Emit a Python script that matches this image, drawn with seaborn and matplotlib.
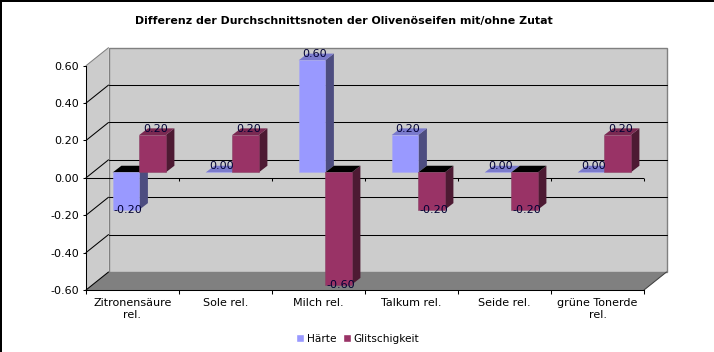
import pandas as pd
import seaborn as sns
import matplotlib.pyplot as plt
from matplotlib.patches import Polygon, Rectangle

categories = ['Zitronensäure\nrel.', 'Sole rel.', 'Milch rel.', 'Talkum rel.', 'Seide rel.', 'grüne Tonerde\nrel.']
haerte = [-0.20, 0.00, 0.60, 0.20, 0.00, 0.00]
glitschigkeit = [0.20, 0.20, -0.60, -0.20, -0.20, 0.20]
y_ticks = [-0.6, -0.4, -0.2, 0.0, 0.2, 0.4, 0.6]

df = pd.DataFrame({'cat': categories * 2,
                   'val': haerte + glitschigkeit,
                   'serie': ['Härte'] * 6 + ['Glitschigkeit'] * 6})

W, H = 714, 352
left, right, top, bottom = 86, 644, 65.7, 290
line = 0.75

sns.set_theme(style='white', font='DejaVu Sans')
fig = plt.figure(figsize=(W / 100, H / 100), dpi=100, facecolor='white')
ax = fig.add_axes([left / W, 1 - bottom / H, (right - left) / W, (bottom - top) / H])
ax.patch.set_visible(False)

colors = {'Härte': '#9999ff', 'Glitschigkeit': '#993366'}
side_colors = ['#4d4d80', '#4d1a33']
top_colors = ['#7a7acc', '#7a2952']

sns.barplot(data=df, x='cat', y='val', hue='serie', palette=colors, width=0.57, gap=0,
            errorbar=None, ax=ax, saturation=1, zorder=10)
ax.set_xlim(-0.5, 5.5)
ax.set_ylim(-0.6, 0.6)
ax.set_xlabel('')
ax.set_ylabel('')

# pixel sizes to data units
sx = (right - left) / 6
sy = (bottom - top) / 1.2


def shift(x, y, dx, dy):
    return (x + dx / sx, y + dy / sy)


# room: side wall, back wall, floor
dx, dy = 22.5, 18
xa, xb = -0.5, 5.5
ya, yb = -0.6, 0.6
ax.add_patch(Polygon([(xa, ya), (xa, yb), shift(xa, yb, dx, dy), shift(xa, ya, dx, dy)],
                     fc='#cccccc', ec='none', zorder=1, clip_on=False))
ax.add_patch(Polygon([shift(xa, ya, dx, dy), shift(xa, yb, dx, dy), shift(xb, yb, dx, dy), shift(xb, ya, dx, dy)],
                     fc='#cccccc', ec='#808080', lw=1, zorder=1, clip_on=False))
ax.add_patch(Polygon([(xa, ya), (xb, ya), shift(xb, ya, dx, dy), shift(xa, ya, dx, dy)],
                     fc='#808080', ec='none', zorder=2, clip_on=False))

for t in y_ticks:
    p0 = shift(xa, t, dx, dy)
    if t == yb:
        ax.plot([xa, p0[0]], [t, p0[1]], color='#808080', lw=line, zorder=3, clip_on=False)
        continue
    ax.plot([xa, p0[0]], [t, p0[1]], color='black', lw=line, zorder=3, clip_on=False)
    if t != ya:
        p1 = shift(xb, t, dx, dy)
        ax.plot([p0[0], p1[0]], [p0[1], p1[1]], color='black', lw=line, zorder=3, clip_on=False)
p2 = shift(xb, ya, dx, dy)
ax.plot([xb, p2[0]], [ya, p2[1]], color='#404040', lw=line, zorder=3, clip_on=False)

# zero axis with ticks
ax.axhline(0, color='black', lw=line, zorder=4)
tick_pos = [i - 0.5 for i in range(1, 7)]
ax.vlines(tick_pos, -3 / sy, 0, color='black', lw=line, zorder=4, clip_on=False)

# 3d look for the bars
off_x, off_y = 6.7, 5.4
dep_x, dep_y = 8.7, 6.7
for k, cont in enumerate(ax.containers):
    for i, bar in enumerate(cont.patches):
        z_i = 10 + i * 3 + k * 1.5
        x0, w = bar.get_x(), bar.get_width()
        v = bar.get_height()
        x0n, base = shift(x0, 0, off_x, off_y)
        bar.set_x(x0n)
        bar.set_y(base)
        bar.set_clip_on(False)
        bar.set_zorder(z_i + 0.2)
        bar.set_edgecolor(sns.desaturate(bar.get_facecolor()[:3], 0.7))
        bar.set_linewidth(0.4)
        hi = base + max(v, 0)
        lo = base + min(v, 0)
        x1 = x0n + w
        ax.add_patch(Polygon([(x1, lo), (x1, hi), shift(x1, hi, dep_x, dep_y), shift(x1, lo, dep_x, dep_y)],
                             fc=side_colors[k], ec='none', zorder=z_i, clip_on=False))
        ax.add_patch(Polygon([(x0n, hi), (x1, hi), shift(x1, hi, dep_x, dep_y), shift(x0n, hi, dep_x, dep_y)],
                             fc='black' if v < 0 else top_colors[k], ec='none', zorder=z_i + 0.1, clip_on=False))
        mid = x0n + w / 2
        if v < 0:
            lx, ly = shift(mid, base + v, 2, 0)
        else:
            lx, ly = shift(mid, base + v, 3, 6.5)
        ax.text(lx, ly, f'{v:.2f}', ha='center', va='center', fontsize=8, color='#000033',
                zorder=40, clip_on=False)

# axes
for s in ['top', 'right']:
    ax.spines[s].set_visible(False)
for s in ['left', 'bottom']:
    ax.spines[s].set_color('black')
    ax.spines[s].set_linewidth(line)
    ax.spines[s].set_zorder(5)

ax.set_yticks(y_ticks)
ax.set_yticklabels([f'{t:.2f}' for t in y_ticks], fontsize=8)
ax.set_xticks(range(6))
ax.set_xticklabels(categories, fontsize=8, linespacing=1.25)
ax.set_xticks(tick_pos[:-1] + [5.5, -0.5], minor=True)
ax.tick_params(axis='x', which='major', length=0, pad=6, colors='black')
ax.tick_params(axis='x', which='minor', length=3, width=line, color='black', bottom=True)
ax.tick_params(axis='y', length=2, width=line, color='black', left=True, pad=3, labelcolor='black')

handles, labels = ax.get_legend_handles_labels()
ax.legend(handles, labels, loc='center', bbox_to_anchor=(358 / W, 1 - 339 / H),
          bbox_transform=fig.transFigure, ncols=2, frameon=False, fontsize=7.6,
          handlelength=0.76, handleheight=0.76, handletextpad=0.28, columnspacing=0.57,
          labelcolor='black')

fig.text(343.5 / W, 1 - 21 / H, 'Differenz der Durchschnittsnoten der Olivenöseifen mit/ohne Zutat',
         ha='center', va='center', fontsize=7.95, fontweight='bold', color='black')

# black edge of the screenshot
fig.add_artist(Rectangle((0, 0), 1.5 / W, 1, transform=fig.transFigure, fc='black', ec='none'))
fig.add_artist(Rectangle((0, 1 - 1.5 / H), 1, 1.5 / H, transform=fig.transFigure, fc='black', ec='none'))

fig.savefig('out.png', dpi=100)
